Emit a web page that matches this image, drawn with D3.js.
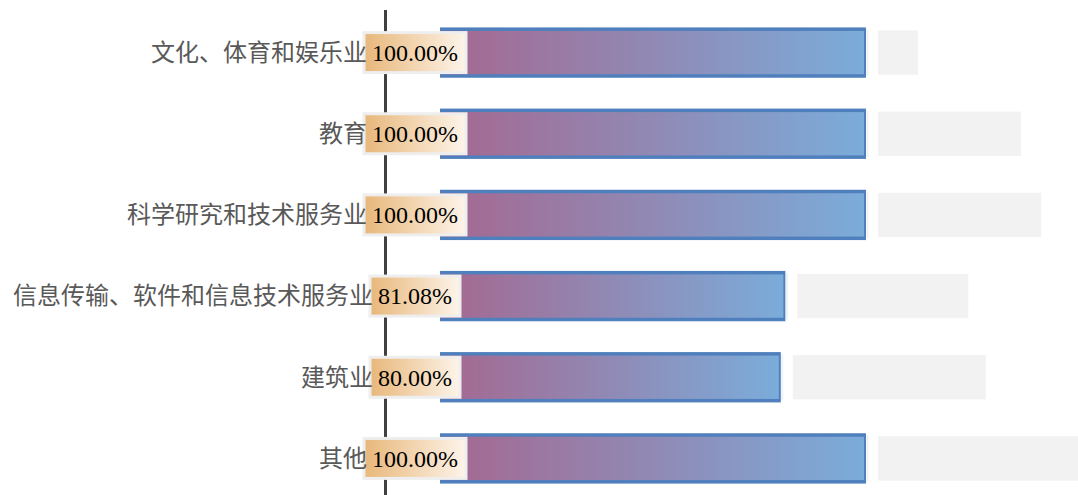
<!DOCTYPE html>
<html><head><meta charset="utf-8">
<script src="https://cdn.jsdelivr.net/npm/d3@7"></script>
<style>body{margin:0;background:#fff;}svg{display:block;}</style>
</head><body>
<svg id="chart" width="1078" height="495"></svg>
<script>
const categories = ["文化、体育和娱乐业","教育","科学研究和技术服务业","信息传输、软件和信息技术服务业","建筑业","其他"];
const rates = [100.00, 100.00, 100.00, 81.08, 80.00, 100.00];
const backValues = [9.4, 33.6, 38.3, 40.1, 45.3, 50.0];

const svg = d3.select("#chart");
const W = 1078, H = 495;
const x = d3.scaleLinear().domain([0, 100]).range([440, 866]);
const y = d3.scaleBand().domain(categories).range([12, 499]).paddingInner(0.38).paddingOuter(0.19);

const defs = svg.append("defs");
const g1 = defs.append("linearGradient").attr("id","barGrad").attr("x1","0").attr("x2","1").attr("y1","0").attr("y2","0");
g1.append("stop").attr("offset","0").attr("stop-color","#a5678f");
g1.append("stop").attr("offset","1").attr("stop-color","#7bacda");
const g2 = defs.append("linearGradient").attr("id","lblGrad").attr("x1","0").attr("x2","1").attr("y1","0").attr("y2","0");
g2.append("stop").attr("offset","0").attr("stop-color","#e8b77a");
g2.append("stop").attr("offset","1").attr("stop-color","#fdf4ea");

// axis line
svg.append("line").attr("x1",385.5).attr("x2",385.5).attr("y1",10).attr("y2",H)
  .attr("stroke","#404040").attr("stroke-width",3);

// background gray rects
svg.selectAll("rect.back").data(categories).join("rect").attr("class","back")
  .attr("x", (d,i) => x(rates[i]) + 12)
  .attr("y", d => y(d) + 3)
  .attr("width", (d,i) => x(backValues[i]) - x(0))
  .attr("height", y.bandwidth() - 6)
  .attr("fill","#f2f2f2");

// bars
const bars = svg.selectAll("g.bar").data(categories).join("g").attr("class","bar");
bars.append("rect")
  .attr("x", x(0)).attr("y", d => y(d))
  .attr("width", (d,i) => x(rates[i]) - x(0))
  .attr("height", y.bandwidth())
  .attr("fill","#4f7fbd");
bars.append("rect")
  .attr("x", x(0)).attr("y", d => y(d) + 3.5)
  .attr("width", (d,i) => x(rates[i]) - x(0) - 2)
  .attr("height", y.bandwidth() - 7)
  .attr("fill","url(#barGrad)");
bars.append("line")
  .attr("x1", (d,i) => x(rates[i]) + 1.5).attr("x2", (d,i) => x(rates[i]) + 1.5)
  .attr("y1", d => y(d) + 2).attr("y2", d => y(d) + y.bandwidth() - 2)
  .attr("stroke","#eef1f6").attr("stroke-width",2);

// labels
const fmt = d3.format(".2f");
const cx = 415;
const lbl = svg.selectAll("g.lbl").data(categories).join("g").attr("class","lbl");
lbl.each(function(d,i){
  const gg = d3.select(this);
  const cy = y(d) + y.bandwidth()/2;
  const t = gg.append("text").attr("x", cx).attr("y", cy).attr("dy","0.35em")
    .attr("text-anchor","middle")
    .attr("font-family","'Liberation Serif','Noto Sans CJK SC',serif")
    .attr("font-size",24).attr("fill","#000")
    .text(fmt(rates[i]) + "%");
  const w = t.node().getComputedTextLength();
  const bw = w + 16, bh = 40;
  gg.insert("rect","text").attr("x", cx - bw/2).attr("y", cy - bh/2).attr("width", bw).attr("height", bh)
    .attr("fill","url(#lblGrad)").attr("stroke","#eeeeee").attr("stroke-width",3);
  svg.append("text").attr("x", cx - bw/2 + 3).attr("y", cy).attr("dy","0.35em")
    .attr("text-anchor","end")
    .attr("font-family","'Liberation Serif','Noto Sans CJK SC',serif")
    .attr("font-size",24).attr("fill","#595959")
    .text(d);
});
</script>
</body></html>
